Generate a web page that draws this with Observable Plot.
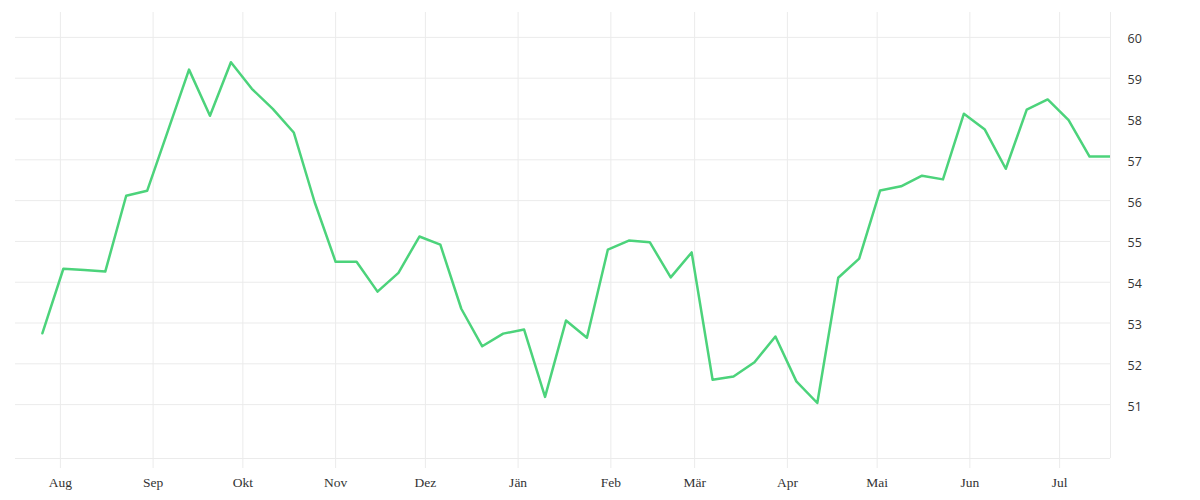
<!DOCTYPE html>
<html>
<head>
<meta charset="utf-8">
<script src="https://cdn.jsdelivr.net/npm/d3@7"></script>
<script src="https://cdn.jsdelivr.net/npm/@observablehq/plot@0.6"></script>
<style>
  body { margin: 0; background: #fff; }
</style>
</head>
<body>
<div id="chart"></div>
<script>
const weeks = [
  "2022-07-26","2022-08-02","2022-08-09","2022-08-16","2022-08-23","2022-08-30",
  "2022-09-06","2022-09-13","2022-09-20","2022-09-27","2022-10-04","2022-10-11",
  "2022-10-18","2022-10-25","2022-11-01","2022-11-08","2022-11-15","2022-11-22",
  "2022-11-29","2022-12-06","2022-12-13","2022-12-20","2022-12-27","2023-01-03",
  "2023-01-10","2023-01-17","2023-01-24","2023-01-31","2023-02-07","2023-02-14",
  "2023-02-21","2023-02-28","2023-03-07","2023-03-14","2023-03-21","2023-03-28",
  "2023-04-04","2023-04-11","2023-04-18","2023-04-25","2023-05-02","2023-05-09",
  "2023-05-16","2023-05-23","2023-05-30","2023-06-06","2023-06-13","2023-06-20",
  "2023-06-27","2023-07-04","2023-07-11","2023-07-18"
];
const values = [
  52.75, 54.33, 54.30, 54.26, 56.12, 56.24,
  57.72, 59.21, 58.08, 59.39, 58.74, 58.25,
  57.67, 55.96, 54.50, 54.50, 53.77, 54.23,
  55.12, 54.92, 53.35, 52.43, 52.74, 52.84,
  51.19, 53.06, 52.64, 54.80, 55.02, 54.98,
  54.12, 54.73, 51.61, 51.69, 52.04, 52.67,
  51.57, 51.04, 54.11, 54.58, 56.25, 56.35,
  56.61, 56.52, 58.13, 57.74, 56.78, 58.23,
  58.48, 57.97, 57.08, 57.08
];
const monthTicks = [
  "2022-08-01","2022-09-01","2022-10-01","2022-11-01","2022-12-01","2023-01-01",
  "2023-02-01","2023-03-01","2023-04-01","2023-05-01","2023-06-01","2023-07-01"
];
const monthLabels = ["Aug","Sep","Okt","Nov","Dez","Jän","Feb","Mär","Apr","Mai","Jun","Jul"];
const yTicks = [51, 52, 53, 54, 55, 56, 57, 58, 59, 60];
const xDomain = ["2022-07-17", "2023-07-18"];
const yDomain = [49.68, 60.61];

const toDate = s => new Date(s + "T00:00:00Z");
const data = weeks.map((w, i) => ({date: toDate(w), value: values[i]}));
const monthDates = monthTicks.map(toDate);
const gridColor = "#ebebeb";

const chart = Plot.plot({
  width: 1200,
  height: 500,
  marginTop: 12,
  marginBottom: 42,
  marginLeft: 15,
  marginRight: 90,
  style: {background: "#fff", overflow: "visible"},
  x: {type: "utc", domain: xDomain.map(toDate)},
  y: {domain: yDomain},
  marks: [
    Plot.gridY(yTicks, {stroke: gridColor, strokeOpacity: 1, strokeWidth: 1}),
    Plot.ruleY([yDomain[0]], {stroke: gridColor, strokeWidth: 1}),
    Plot.gridX(monthDates, {stroke: gridColor, strokeOpacity: 1, strokeWidth: 1}),
    Plot.ruleX([toDate(xDomain[1])], {stroke: gridColor, strokeWidth: 1}),
    Plot.axisX(monthDates, {
      anchor: "bottom",
      tickSize: 10,
      tickPadding: 9,
      stroke: gridColor,
      fill: "#333",
      tickFormat: (d, i) => monthLabels[i],
      fontFamily: "Liberation Serif",
      fontSize: 13.5,
      label: null
    }),
    Plot.axisY(yTicks, {
      anchor: "right",
      tickSize: 0,
      tickPadding: 17,
      dy: 2,
      fill: "#333",
      fontFamily: "Open Sans",
      fontSize: 12.5,
      label: null
    }),
    Plot.lineY(data, {x: "date", y: "value", stroke: "#4cd37b", strokeWidth: 2.5, clip: true})
  ]
});
document.getElementById("chart").append(chart);
</script>
</body>
</html>
